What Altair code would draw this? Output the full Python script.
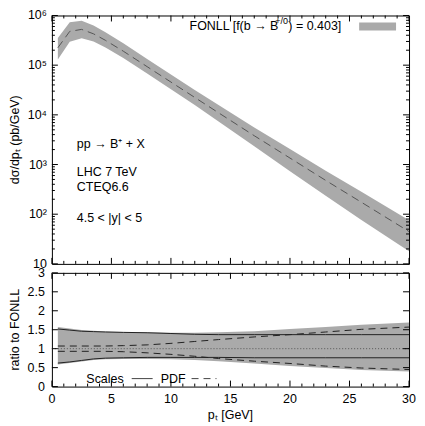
import altair as alt
import pandas as pd

FONT = "Liberation Sans"

# ---------------- data ----------------
pt = [0.5, 1.5, 2.5, 3.5, 4.5, 6, 8, 10, 12, 14, 17, 20, 23, 26, 30]
xsec_central = [2.24e5, 4.79e5, 5.25e5, 4.27e5, 3.16e5, 1.91e5, 9.33e4, 4.57e4,
                2.24e4, 1.10e4, 3.80e3, 1.35e3, 479, 174, 44.7]
xsec_high = [3.52e5, 7.33e5, 7.82e5, 6.28e5, 4.58e5, 2.75e5, 1.33e5, 6.49e4,
             3.18e4, 1.57e4, 5.55e3, 2.05e3, 752, 284, 75.5]
xsec_low = [1.30e5, 2.97e5, 3.47e5, 2.99e5, 2.28e5, 1.39e5, 6.81e4, 3.29e4,
            1.57e4, 7.37e3, 2.32e3, 729, 235, 76.6, 17.9]

ratio_band_hi = [1.57, 1.53, 1.49, 1.47, 1.45, 1.44, 1.43, 1.42, 1.42, 1.43, 1.46, 1.52, 1.57, 1.63, 1.69]
ratio_band_lo = [0.58, 0.62, 0.66, 0.70, 0.72, 0.73, 0.73, 0.72, 0.70, 0.67, 0.61, 0.54, 0.49, 0.44, 0.40]
scales_hi = [1.52, 1.49, 1.46, 1.45, 1.44, 1.43, 1.42, 1.40, 1.38, 1.37, 1.37, 1.37, 1.37, 1.37, 1.37]
scales_lo = [0.62, 0.65, 0.69, 0.73, 0.75, 0.76, 0.77, 0.77, 0.77, 0.77, 0.76, 0.76, 0.76, 0.76, 0.76]
pdf_hi = [1.07, 1.07, 1.07, 1.07, 1.07, 1.08, 1.10, 1.14, 1.19, 1.24, 1.31, 1.37, 1.44, 1.51, 1.57]
pdf_lo = [0.93, 0.93, 0.93, 0.93, 0.93, 0.92, 0.89, 0.85, 0.80, 0.74, 0.67, 0.61, 0.54, 0.49, 0.45]

x_major = [0, 5, 10, 15, 20, 25, 30]
x_major_labels = ["0", "5", "10", "15", "20", "25", "30"]
x_minor = [v for v in range(1, 30) if v % 5 != 0]
ylog_major = [10, 100, 1000, 1e4, 1e5, 1e6]
ylog_labels = ["10", "10²", "10³", "10⁴", "10⁵", "10⁶"]
ylog_minor = [k * 10 ** n for n in range(1, 6) for k in range(2, 10)]
yratio_major = [0, 0.5, 1, 1.5, 2, 2.5, 3]
yratio_labels = ["0", "0.5", "1", "1.5", "2", "2.5", "3"]
ratio_ref = [1]

legend_main = ["FONLL [f(b → B", "+/0", ") = 0.403]"]
annotations = ["pp → B⁺ + X", "LHC 7 TeV", "CTEQ6.6", "4.5 < |y| < 5"]
ratio_legend = ["Scales", "PDF"]
titles = ["dσ/dpₜ (pb/GeV)", "ratio to FONLL", "pₜ [GeV]"]

# ---------------- layout ----------------
W, H1, H2 = 358, 249, 114
BAND = "#aaaaaa"
FS = 12.5

xs = alt.Scale(domain=[0, 30], nice=False, zero=False)
ylog = alt.Scale(type="log", domain=[10, 1e6], nice=False)
ylin = alt.Scale(domain=[0, 3], nice=False, zero=False)


def one(v):
    return pd.DataFrame({"t": [v]})


def tick_layers(xscale, yscale, xmaj, xmin, ymaj, ymin, h):
    layers = []
    for vals, ln in ((xmaj, 6), (xmin, 3)):
        d = pd.DataFrame({"v": vals})
        layers.append(alt.Chart(d).mark_rule(color="black", strokeWidth=1).encode(
            x=alt.X("v:Q", scale=xscale, axis=None), y=alt.value(h), y2=alt.value(h - ln)))
        layers.append(alt.Chart(d).mark_rule(color="black", strokeWidth=1).encode(
            x=alt.X("v:Q", scale=xscale, axis=None), y=alt.value(0), y2=alt.value(ln)))
    for vals, ln in ((ymaj, 6), (ymin, 3)):
        if not vals:
            continue
        d = pd.DataFrame({"v": vals})
        layers.append(alt.Chart(d).mark_rule(color="black", strokeWidth=1).encode(
            y=alt.Y("v:Q", scale=yscale, axis=None), x=alt.value(0), x2=alt.value(ln)))
        layers.append(alt.Chart(d).mark_rule(color="black", strokeWidth=1).encode(
            y=alt.Y("v:Q", scale=yscale, axis=None), x=alt.value(W), x2=alt.value(W - ln)))
    return layers


def text_layer(s, x, y, size=FS, align="left", angle=None):
    kw = dict(align=align, baseline="middle", font=FONT, fontSize=size, color="black")
    if angle is not None:
        kw["angle"] = angle
    return alt.Chart(one(s)).mark_text(**kw).encode(x=alt.value(x), y=alt.value(y), text="t:N")


def y_labels(vals, texts, scale, x):
    d = pd.DataFrame({"v": vals, "t": texts})
    return alt.Chart(d).mark_text(align="right", baseline="middle", font=FONT, fontSize=FS,
                                  color="black").encode(
        y=alt.Y("v:Q", scale=scale, axis=None), x=alt.value(x), text="t:N")


def x_labels(vals, texts, scale, y):
    d = pd.DataFrame({"v": vals, "t": texts})
    return alt.Chart(d).mark_text(align="center", baseline="middle", font=FONT, fontSize=FS,
                                  color="black").encode(
        x=alt.X("v:Q", scale=scale, axis=None), y=alt.value(y), text="t:N")


# ---------------- upper panel ----------------
df_top = pd.DataFrame({"pt": pt, "c": xsec_central, "hi": xsec_high, "lo": xsec_low})

top_band = alt.Chart(df_top).mark_area(color=BAND, opacity=1).encode(
    x=alt.X("pt:Q", scale=xs, axis=None),
    y=alt.Y("lo:Q", scale=ylog, axis=None),
    y2="hi:Q")

top_line = alt.Chart(df_top).mark_line(color="#555555", strokeWidth=1, strokeDash=[8, 5]).encode(
    x=alt.X("pt:Q", scale=xs, axis=None), y=alt.Y("c:Q", scale=ylog, axis=None))

legend_rect = alt.Chart(one("r")).mark_rect(color=BAND).encode(
    x=alt.value(308), x2=alt.value(345), y=alt.value(7), y2=alt.value(15))

top_layers = [top_band, top_line] + tick_layers(xs, ylog, x_major, x_minor, ylog_major, ylog_minor, H1) + [
    y_labels(ylog_major, ylog_labels, ylog, -5),
    text_layer(titles[0], -37, H1 / 2, align="center", angle=270),
    text_layer(legend_main[0], 138, 11),
    text_layer(legend_main[1], 224, 6, size=9),
    text_layer(legend_main[2], 237, 11),
    legend_rect,
    text_layer(annotations[0], 25, 129),
    text_layer(annotations[1], 25, 157),
    text_layer(annotations[2], 25, 172),
    text_layer(annotations[3], 25, 203),
]
upper = alt.layer(*top_layers).properties(width=W, height=H1)

# ---------------- lower panel ----------------
df_r = pd.DataFrame({"pt": pt, "bh": ratio_band_hi, "bl": ratio_band_lo,
                     "sh": scales_hi, "sl": scales_lo, "ph": pdf_hi, "pl": pdf_lo})

r_band = alt.Chart(df_r).mark_area(color=BAND, opacity=1).encode(
    x=alt.X("pt:Q", scale=xs, axis=None),
    y=alt.Y("bl:Q", scale=ylin, axis=None),
    y2="bh:Q")


def r_line(field, dash=None):
    kw = dict(color="#222222", strokeWidth=1)
    if dash:
        kw["strokeDash"] = dash
    return alt.Chart(df_r).mark_line(**kw).encode(
        x=alt.X("pt:Q", scale=xs, axis=None), y=alt.Y(f"{field}:Q", scale=ylin, axis=None))


ref_line = alt.Chart(pd.DataFrame({"v": ratio_ref})).mark_rule(
    color="#555555", strokeWidth=1, strokeDash=[1, 2]).encode(
    y=alt.Y("v:Q", scale=ylin, axis=None), x=alt.value(0), x2=alt.value(W))

sample_solid = alt.Chart(one("s")).mark_rule(color="#444444", strokeWidth=1).encode(
    x=alt.value(80), x2=alt.value(101), y=alt.value(106))
sample_dash = alt.Chart(one("d")).mark_rule(color="#444444", strokeWidth=1, strokeDash=[7, 5]).encode(
    x=alt.value(140), x2=alt.value(165), y=alt.value(106))

low_layers = [r_band, ref_line, r_line("sh"), r_line("sl"), r_line("ph", [7, 5]), r_line("pl", [7, 5])] + \
    tick_layers(xs, ylin, x_major, x_minor, yratio_major, [], H2) + [
    y_labels(yratio_major, yratio_labels, ylin, -7),
    x_labels(x_major, x_major_labels, xs, H2 + 12),
    text_layer(titles[1], -37, H2 / 2, align="center", angle=270),
    text_layer(titles[2], W / 2, H2 + 28, align="center"),
    text_layer(ratio_legend[0], 72, 106, align="right"),
    sample_solid,
    text_layer(ratio_legend[1], 134, 106, align="right"),
    sample_dash,
]
lower = alt.layer(*low_layers).properties(width=W, height=H2)

chart = alt.vconcat(upper, lower, spacing=9, bounds="flush").properties(
    padding={"left": 0, "top": 0, "right": 0, "bottom": 0},
    background="white",
).configure_view(stroke="black", strokeWidth=1)

chart.save("out.html", embed_options={"renderer": "svg", "actions": False})
